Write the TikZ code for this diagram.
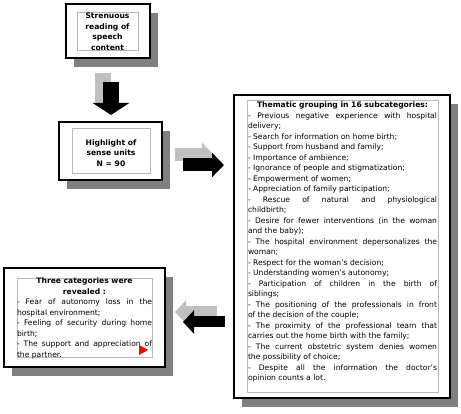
\documentclass[tikz,border=0pt]{standalone}
\usepackage{fontspec}
\setmainfont{DejaVu Sans}
\usetikzlibrary{shadows}
\usetikzlibrary{arrows.meta}

\definecolor{shadowgray}{RGB}{128,128,128}
\definecolor{arrowgray}{RGB}{192,192,192}
\definecolor{framegray}{RGB}{185,185,185}

\begin{document}
\begin{tikzpicture}[x=1pt,y=-1pt,
    outerbox/.style={draw,line width=2.6pt,fill=white,inner sep=0pt,
        drop shadow={shadow xshift=8pt,shadow yshift=-9pt,fill=shadowgray,opacity=1}},
    innerbox/.style={draw=framegray,line width=0.7pt,inner sep=0pt},
    boxtext/.style={inner sep=0pt,font=\fontsize{7.6}{10.5}\selectfont},
    listtext/.style={boxtext,anchor=north,align=justify},
    blockarrow/.style n args={4}{draw=#1,line width=#2,
        -{Triangle[length=#3,width=#4,fill=#1]}}]
    \useasboundingbox (0,0) rectangle (461,414);

    % boxes
    \node[outerbox,minimum width=84pt,minimum height=54pt] (read) at (108,31) {};
    \node[innerbox,minimum width=61pt,minimum height=38pt] (readin) at (107.5,31) {};
    \node[boxtext,align=center,font=\fontsize{7.6}{10.5}\selectfont\bfseries]
        (readtxt) at (107.5,31.5) {Strenuous\\reading of\\speech\\content};

    \node[outerbox,minimum width=103pt,minimum height=58pt] (units) at (110.5,151) {};
    \node[innerbox,minimum width=78pt,minimum height=45pt] (unitsin) at (111,150.5) {};
    \node[boxtext,align=center,font=\fontsize{7.6}{10.5}\selectfont\bfseries]
        (unitstxt) at (111,153) {Highlight of\\sense units\\N = 90};

    \node[outerbox,minimum width=216pt,minimum height=303pt] (group) at (342,246.5) {};
    \node[innerbox,minimum width=191pt,minimum height=292pt] (groupin) at (342.5,246) {};
    \node[listtext,text width=189pt] (grouptxt) at (342.5,102) {%
        \hyphenpenalty=10000\relax\exhyphenpenalty=10000\relax
        {\centering\bfseries Thematic grouping in 16 subcategories:\par}
        - Previous negative experience with hospital\linebreak delivery;\par
        - Search for information on home birth;\par
        - Support from husband and family;\par
        - Importance of ambience;\par
        - Ignorance of people and stigmatization;\par
        - Empowerment of women;\par
        - Appreciation of family participation;\par
        - Rescue of natural and physiological\linebreak childbirth;\par
        - Desire for fewer interventions (in the woman\linebreak and the baby);\par
        - The hospital environment depersonalizes the\linebreak woman;\par
        - Respect for the woman's decision;\par
        - Understanding women's autonomy;\par
        - Participation of children in the birth of\linebreak siblings;\par
        - The positioning of the professionals in front\linebreak of the decision of the couple;\par
        - The proximity of the professional team that\linebreak carries out the home birth with the family;\par
        - The current obstetric system denies women\linebreak the possibility of choice;\par
        - Despite all the information the doctor's\linebreak opinion counts a lot.};

    \node[outerbox,minimum width=161pt,minimum height=99pt] (result) at (84.5,317.5) {};
    \node[innerbox,minimum width=135pt,minimum height=79pt] (resultin) at (84.5,317.5) {};
    \node[listtext,text width=135pt] (resulttxt) at (84.5,278) {%
        \hyphenpenalty=10000\relax\exhyphenpenalty=10000\relax
        {\centering\bfseries Three categories were\\revealed :\par}
        - Fear of autonomy loss in the\linebreak hospital environment;\par
        - Feeling of security during home\linebreak birth;\par
        - The support and appreciation of\linebreak the partner.};
    \fill[red] (139,345) -- (148,350) -- (139,355) -- cycle;

    % arrows
    \coordinate (downa) at (103,73);
    \coordinate (downb) at (103,103);
    \coordinate (downc) at (111,82);
    \coordinate (downd) at (111,115);
    \draw[arrowgray,line width=16pt] (downa) -- (downb);
    \draw[blockarrow={black}{16pt}{12pt}{36pt}] (downc) -- (downd);

    \coordinate (righta) at (175,155);
    \coordinate (rightb) at (214,155);
    \coordinate (rightc) at (183,165);
    \coordinate (rightd) at (224,165);
    \draw[blockarrow={arrowgray}{13pt}{12pt}{24pt}] (righta) -- (rightb);
    \draw[blockarrow={black}{13pt}{12pt}{24pt}] (rightc) -- (rightd);

    \coordinate (lefta) at (217,312);
    \coordinate (leftb) at (175,312);
    \coordinate (leftc) at (225,322);
    \coordinate (leftd) at (183,322);
    \draw[blockarrow={arrowgray}{11pt}{11pt}{23pt}] (lefta) -- (leftb);
    \draw[blockarrow={black}{11pt}{11pt}{23pt}] (leftc) -- (leftd);
\end{tikzpicture}
\end{document}
